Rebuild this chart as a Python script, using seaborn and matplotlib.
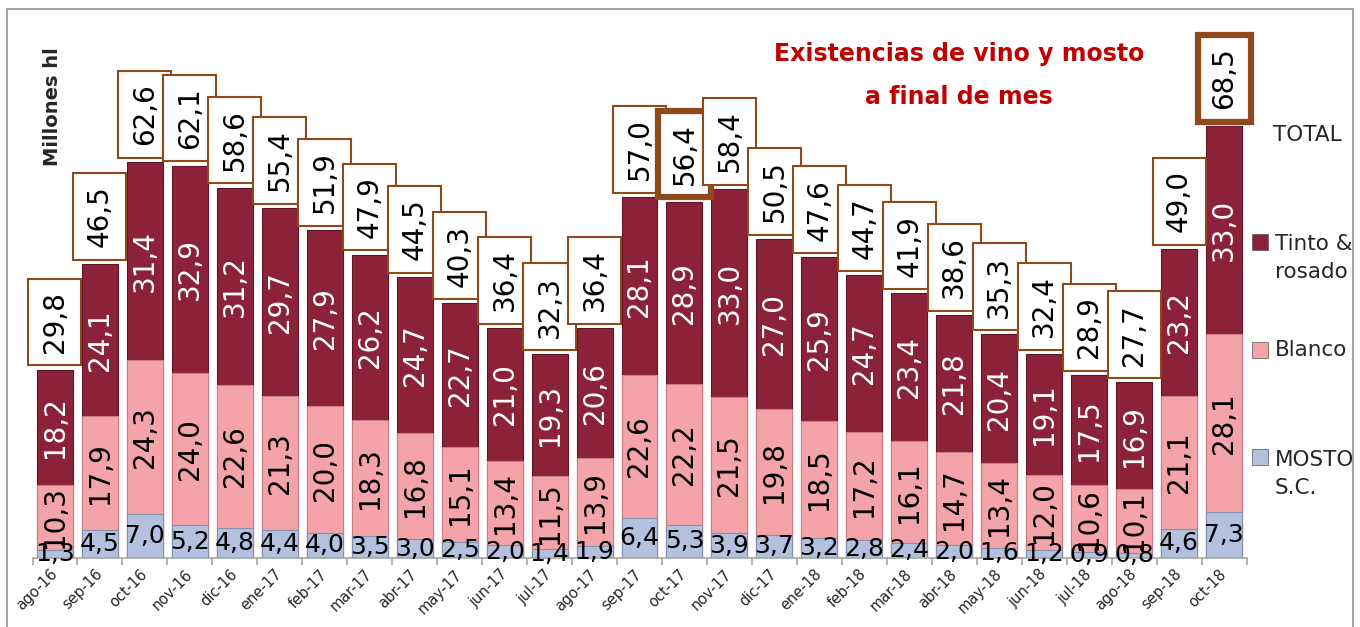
import matplotlib
matplotlib.use("Agg")
import matplotlib.pyplot as plt
from matplotlib.patches import Rectangle
import numpy as np
import pandas as pd
import seaborn as sns

# existencias a final de mes (millones hl)
meses = ["ago-16", "sep-16", "oct-16", "nov-16", "dic-16", "ene-17", "feb-17",
         "mar-17", "abr-17", "may-17", "jun-17", "jul-17", "ago-17", "sep-17",
         "oct-17", "nov-17", "dic-17", "ene-18", "feb-18", "mar-18", "abr-18",
         "may-18", "jun-18", "jul-18", "ago-18", "sep-18", "oct-18"]
mosto = [1.3, 4.5, 7.0, 5.2, 4.8, 4.4, 4.0, 3.5, 3.0, 2.5, 2.0, 1.4, 1.9, 6.4,
         5.3, 3.9, 3.7, 3.2, 2.8, 2.4, 2.0, 1.6, 1.2, 0.9, 0.8, 4.6, 7.3]
blanco = [10.3, 17.9, 24.3, 24.0, 22.6, 21.3, 20.0, 18.3, 16.8, 15.1, 13.4, 11.5,
          13.9, 22.6, 22.2, 21.5, 19.8, 18.5, 17.2, 16.1, 14.7, 13.4, 12.0, 10.6,
          10.1, 21.1, 28.1]
tinto = [18.2, 24.1, 31.4, 32.9, 31.2, 29.7, 27.9, 26.2, 24.7, 22.7, 21.0, 19.3,
         20.6, 28.1, 28.9, 33.0, 27.0, 25.9, 24.7, 23.4, 21.8, 20.4, 19.1, 17.5,
         16.9, 23.2, 33.0]
total = [29.8, 46.5, 62.6, 62.1, 58.6, 55.4, 51.9, 47.9, 44.5, 40.3, 36.4, 32.3,
         36.4, 57.0, 56.4, 58.4, 50.5, 47.6, 44.7, 41.9, 38.6, 35.3, 32.4, 28.9,
         27.7, 49.0, 68.5]
destacados = ["oct-17", "oct-18"]

C_TINTO = "#8C2239"
C_BLANCO = "#F4A4A9"
C_MOSTO = "#B3C1DE"
C_BOX = "#8E4A1A"
C_TITLE = "#C00000"

sns.set_style("white")
plt.rcParams["font.family"] = ["DejaVu Sans"]
narrow = "DejaVu Sans Condensed"

df = pd.DataFrame({"mes": meses, "mosto": mosto, "blanco": blanco,
                   "tinto": tinto, "total": total})
df["base_blanco"] = df["mosto"] + df["blanco"]
df["base_tinto"] = df["base_blanco"] + df["tinto"]

fig = plt.figure(figsize=(13.6, 6.27), dpi=100)
ax = fig.add_axes([32.5 / 1360, 69 / 627, 1214 / 1360, 6.32 * 80 / 627])

# barras apiladas: alturas acumuladas una encima de otra
sns.barplot(data=df, x="mes", y="base_tinto", color=C_TINTO, width=0.8,
            saturation=1, edgecolor="#5E1426", linewidth=0.8, ax=ax)
sns.barplot(data=df, x="mes", y="base_blanco", color=C_BLANCO, width=0.8,
            saturation=1, edgecolor="#C97C84", linewidth=0.8, ax=ax)
sns.barplot(data=df, x="mes", y="mosto", color=C_MOSTO, width=0.8,
            saturation=1, edgecolor="#8491AE", linewidth=0.8, ax=ax)


def fmt(v):
    return f"{v:.1f}".replace(".", ",")


for i, row in df.iterrows():
    ax.text(i, row.base_blanco + row.tinto / 2, fmt(row.tinto), rotation=90,
            ha="center", va="center", fontsize=20, color="white", family=narrow)
    ax.text(i, row.mosto + row.blanco / 2, fmt(row.blanco), rotation=90,
            ha="center", va="center", fontsize=20, color="black", family=narrow)
    ax.text(i, row.mosto / 2, fmt(row.mosto), ha="center", va="center",
            fontsize=18, color="black")
    lw = 4.5 if row.mes in destacados else 1.5
    ax.annotate(fmt(row.total), xy=(i, row.base_tinto), xytext=(0, 12),
                textcoords="offset points", rotation=90, ha="center", va="bottom",
                fontsize=20, family=narrow, color="black",
                bbox=dict(boxstyle="square,pad=0.45", fc="white", ec=C_BOX, lw=lw))

ax.set_xlim(-0.5, len(meses) - 0.5)
ax.set_ylim(0, 80)
ax.set_xlabel("")
ax.set_ylabel("")
ax.set_yticks([])
for s in ["top", "right", "left"]:
    ax.spines[s].set_visible(False)
ax.spines["bottom"].set_color("#A6A6A6")
ax.spines["bottom"].set_linewidth(1.2)
ax.set_xticks(np.arange(-0.5, len(meses)), minor=True)
ax.tick_params(axis="x", which="major", length=0, pad=10)
ax.tick_params(axis="x", which="minor", length=5, color="#A6A6A6", width=1.2,
               direction="out", bottom=True)
plt.setp(ax.get_xticklabels(), rotation=45, ha="right", va="center",
         rotation_mode="anchor", fontsize=10.5)

# titulo y etiqueta del eje
fig.text(959 / 1360, 1 - 75 / 627, "Existencias de vino y mosto\na final de mes",
         ha="center", va="center", color=C_TITLE, fontsize=17, fontweight="bold",
         linespacing=2.0)
fig.text(53 / 1360, 1 - 107 / 627, "Millones hl", rotation=90, ha="center",
         va="center", fontsize=14, fontweight="bold")

# leyenda manual
fig.text(1273 / 1360, 1 - 135 / 627, "TOTAL", ha="left", va="center", fontsize=15.5)
leyenda = [("Tinto &\nrosado", C_TINTO, 258, 242),
           ("Blanco", C_BLANCO, 350, 350),
           ("MOSTO\nS.C.", C_MOSTO, 474, 457)]
for txt, col, ytxt, ymark in leyenda:
    fig.text(1275 / 1360, 1 - ytxt / 627, txt, ha="left", va="center",
             fontsize=15.5, linespacing=1.55)
    fig.patches.append(Rectangle((1252 / 1360, 1 - (ymark + 8) / 627), 16 / 1360,
                                 16 / 627, transform=fig.transFigure, fc=col,
                                 ec="#555555", lw=0.5))

# marco exterior
fig.patches.append(Rectangle((7 / 1360, -0.02), 1346 / 1360, 1.02 - 9 / 627,
                             transform=fig.transFigure, fill=False,
                             ec="#A6A6A6", lw=1.5))

fig.savefig("out.png", dpi=100)
